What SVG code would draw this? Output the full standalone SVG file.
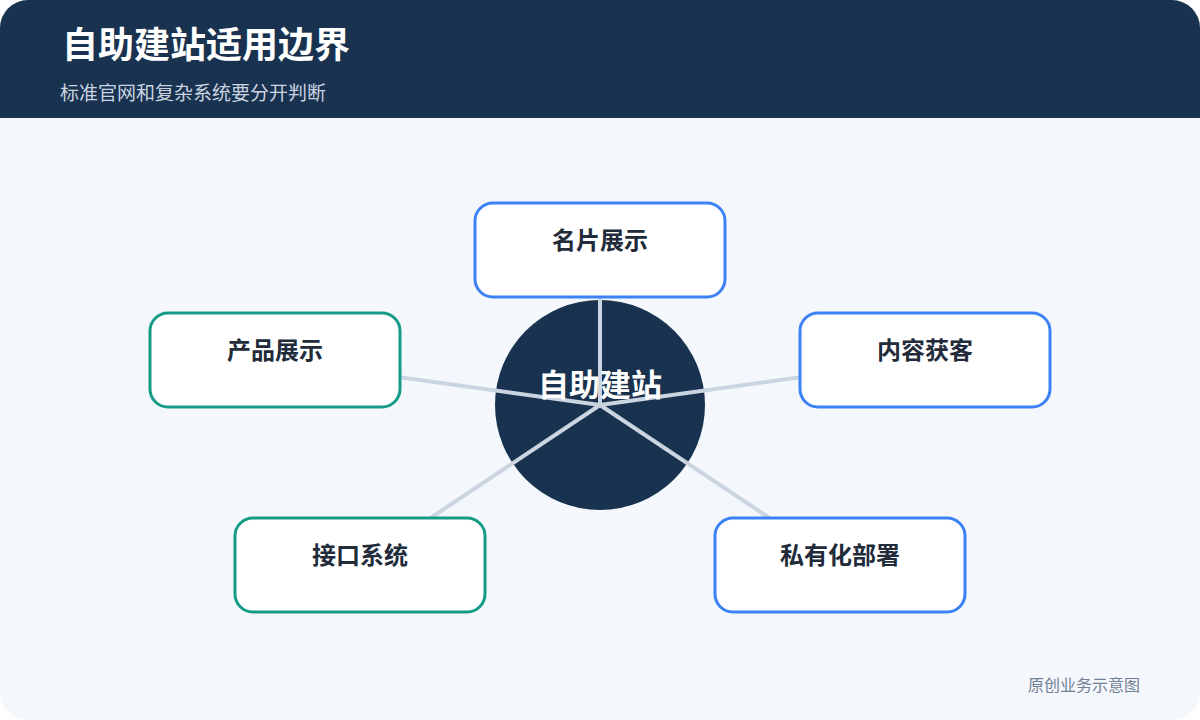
<svg xmlns="http://www.w3.org/2000/svg" width="1200" height="720" viewBox="0 0 1200 720">
<defs>
<style>
.node rect{fill:#ffffff;stroke-width:3}
.blue rect{stroke:#3b82f6}
.green rect{stroke:#169c86}
.label{font-family:"Noto Sans CJK SC","Noto Sans",sans-serif;font-size:24px;font-weight:700;fill:#222b3a;text-anchor:middle}
.conn line{stroke:#cbd5e1;stroke-width:4;stroke-linecap:butt}
</style>
<clipPath id="card"><rect x="0" y="0" width="1200" height="720" rx="28"/></clipPath>
</defs>
<rect width="1200" height="720" fill="#ffffff"/>
<g clip-path="url(#card)">
<rect x="0" y="0" width="1200" height="720" fill="#f4f8fc"/>
<rect x="0" y="0" width="1200" height="118" fill="#18324f"/>
</g>
<text x="62" y="58" font-family="Noto Sans CJK SC, sans-serif" font-size="36" font-weight="700" fill="#ffffff">自助建站适用边界</text>
<text x="60" y="100" font-family="Noto Sans CJK SC, sans-serif" font-size="19" fill="#cbd5e1">标准官网和复杂系统要分开判断</text>
<g id="center">
<circle cx="600" cy="405" r="105" fill="#18324f"/>
</g>
<g id="connectors" class="conn">
<line x1="600" y1="405" x2="600" y2="250"/>
<line x1="600" y1="405" x2="275" y2="360"/>
<line x1="600" y1="405" x2="925" y2="360"/>
<line x1="600" y1="405" x2="360" y2="565"/>
<line x1="600" y1="405" x2="840" y2="565"/>
</g>
<text x="600" y="396" font-family="Noto Sans CJK SC, sans-serif" font-size="31" font-weight="700" fill="#ffffff" text-anchor="middle">自助建站</text>
<g id="n1" class="node blue"><rect x="475" y="203" width="250" height="94" rx="18"/><text class="label" x="600" y="249">名片展示</text></g>
<g id="n2" class="node green"><rect x="150" y="313" width="250" height="94" rx="18"/><text class="label" x="275" y="359">产品展示</text></g>
<g id="n3" class="node blue"><rect x="800" y="313" width="250" height="94" rx="18"/><text class="label" x="925" y="359">内容获客</text></g>
<g id="n4" class="node green"><rect x="235" y="518" width="250" height="94" rx="18"/><text class="label" x="360" y="564">接口系统</text></g>
<g id="n5" class="node blue"><rect x="715" y="518" width="250" height="94" rx="18"/><text class="label" x="840" y="564">私有化部署</text></g>
<text x="1140" y="691" font-family="Noto Sans CJK SC, sans-serif" font-size="16" fill="#718096" text-anchor="end">原创业务示意图</text>
</svg>
